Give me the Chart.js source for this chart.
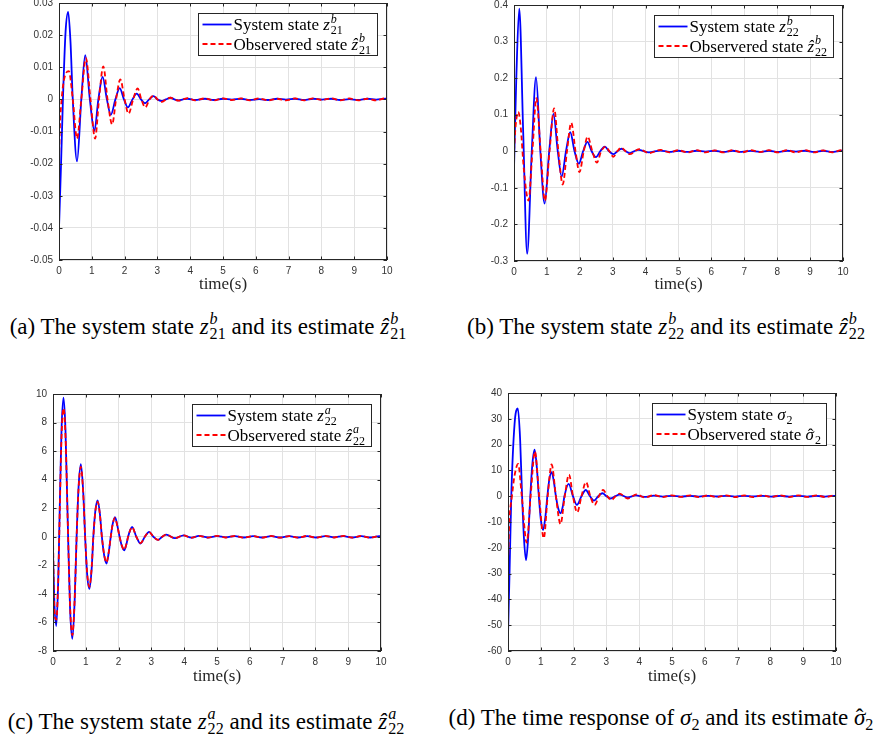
<!DOCTYPE html>
<html>
<head>
<meta charset="utf-8">
<title>Observer state estimates</title>
<script src="https://cdn.jsdelivr.net/npm/chart.js@4.4.1/dist/chart.umd.min.js"></script>
<style>
  html, body { margin: 0; padding: 0; background: #fff; }
  #fig { position: relative; width: 875px; height: 742px; overflow: hidden; font-family: "Liberation Serif", "Times New Roman", serif; }
  #fig canvas { position: absolute; }
  .cap { position: absolute; width: 600px; text-align: center; font-size: 23px; line-height: 1; white-space: nowrap; color: #000; }
  .ss { display: inline-block; font-size: 0.7em; line-height: 0.95; vertical-align: -0.3em; margin-left: 1px; text-align: left; }
  .ss > * { display: block; }
  .cap sub { font-size: 0.7em; vertical-align: -0.3em; line-height: 0; }
  .hat { position: relative; display: inline-block; }
  .hat .hc { position: absolute; left: 0; right: 0; top: 0; text-align: center; font-style: normal; }
</style>
</head>
<body>
<div id="fig">
  <canvas id="chartA" width="420" height="310" style="left:0px;top:-10px"></canvas>
  <canvas id="chartB" width="435" height="310" style="left:440px;top:-10px"></canvas>
  <canvas id="chartC" width="420" height="311" style="left:0px;top:380px"></canvas>
  <canvas id="chartD" width="435" height="311" style="left:440px;top:380px"></canvas>

  <div class="cap" style="left:-92px;top:311px">(a) The system state <i>z</i><span class="ss"><i>b</i><span>21</span></span> and its estimate <i>ẑ</i><span class="ss"><i>b</i><span>21</span></span></div>
  <div class="cap" style="left:366px;top:311px">(b) The system state <i>z</i><span class="ss"><i>b</i><span>22</span></span> and its estimate <i>ẑ</i><span class="ss"><i>b</i><span>22</span></span></div>
  <div class="cap" style="left:-94px;top:706px">(c) The system state <i>z</i><span class="ss"><i>a</i><span>22</span></span> and its estimate <i>ẑ</i><span class="ss"><i>a</i><span>22</span></span></div>
  <div class="cap" style="left:361px;top:706px">(d) The time response of <i>σ</i><sub>2</sub> and its estimate <span class="hat"><i>σ</i><span class="hc">ˆ</span></span><sub>2</sub></div>
</div>

<script>
// ---- data (time in s) ----
const tTail = [4.45, 4.72, 5.0, 5.27, 5.55, 5.82, 6.1, 6.37, 6.65, 6.92, 7.2, 7.47, 7.75, 8.02, 8.3, 8.57, 8.85, 9.12, 9.4, 9.67, 9.95, 10];

// (a) z21^b
const tA_sys = [0, 0.06, 0.12, 0.2, 0.28, 0.35, 0.42, 0.55, 0.68, 0.8, 0.94, 1.08, 1.2, 1.33, 1.46, 1.58, 1.72, 1.85, 1.98, 2.1, 2.24, 2.37, 2.5, 2.62, 2.75, 2.88, 3.0, 3.12, 3.26, 3.4, 3.52, 3.65, 3.78, 3.92, 4.15];
const yA_sys = [-0.04, -0.021, 0, 0.021, 0.0272, 0.018, 0, -0.0193, 0, 0.0138, 0, -0.0098, 0, 0.007, 0, -0.0048, 0, 0.0035, 0, -0.0025, 0, 0.0018, 0, -0.0012, 0, 0.001, 0, -0.0005, 0, 0.0005, 0, -0.0003, 0, 0.0002, -0.0002];
const yA_sysTail = [0.0002, -0.0002, 0.0002, -0.0001, 0.0002, -0.0002, 0.0001, -0.0002, 0.0002, -0.0001, 0.0002, -0.0002, 0.0002, -0.0001, 0.0002, -0.0002, 0.0001, -0.0002, 0.0002, -0.0001, 0.0002, 0.0001];
const tA_obs = [0, 0.03, 0.08, 0.15, 0.3, 0.42, 0.55, 0.68, 0.82, 0.96, 1.1, 1.22, 1.35, 1.48, 1.62, 1.74, 1.87, 2.0, 2.12, 2.26, 2.4, 2.51, 2.63, 2.76, 2.89, 3.0, 3.13, 3.27, 3.4, 3.52, 3.65, 3.78, 3.92, 4.15];
const yA_obs = [-0.019, -0.008, 0, 0.006, 0.0088, 0, -0.0122, 0, 0.0128, 0, -0.0122, 0, 0.0103, 0, -0.0078, 0, 0.0062, 0, -0.0045, 0, 0.0034, 0, -0.0025, 0, 0.0012, 0, -0.0008, 0, 0.0005, 0, -0.0004, 0, 0.0004, -0.0003];
const yA_obsTail = [0.0003, -0.0003, 0.0003, -0.0002, 0.0003, -0.0003, 0.0003, -0.0003, 0.0002, -0.0003, 0.0003, -0.0003, 0.0003, -0.0002, 0.0003, -0.0003, 0.0003, -0.0003, 0.0002, -0.0003, 0.0003, 0.0002];

// (b) z22^b
const tB_sys = [0, 0.07, 0.16, 0.28, 0.4, 0.54, 0.67, 0.8, 0.93, 1.07, 1.2, 1.33, 1.45, 1.58, 1.71, 1.84, 1.97, 2.1, 2.23, 2.36, 2.49, 2.62, 2.76, 2.89, 3.02, 3.14, 3.27, 3.4, 3.52, 3.65, 3.78, 4.1];
const yB_sys = [-0.047, 0.2, 0.39, 0.05, -0.28, 0, 0.203, 0, -0.143, 0, 0.102, 0, -0.069, 0, 0.052, 0, -0.034, 0, 0.026, 0, -0.016, 0, 0.013, 0, -0.008, 0, 0.007, 0, -0.005, 0, 0.004, -0.003];
const yB_sysTail = [0.002, -0.0015, 0.0015, -0.0015, 0.0015, -0.001, 0.0015, -0.0015, 0.0015, -0.0015, 0.001, -0.0015, 0.0015, -0.0015, 0.0015, -0.001, 0.0015, -0.0015, 0.0015, -0.0015, 0.0015, 0.001];
const tB_obs = [0, 0.05, 0.13, 0.2, 0.3, 0.44, 0.56, 0.68, 0.81, 0.94, 1.08, 1.22, 1.35, 1.48, 1.61, 1.74, 1.87, 1.99, 2.12, 2.24, 2.38, 2.52, 2.65, 2.78, 2.9, 3.02, 3.14, 3.26, 3.39, 3.52, 3.8, 4.1];
const yB_obs = [0, 0.07, 0.108, 0.07, -0.05, -0.135, 0, 0.145, 0, -0.135, 0, 0.117, 0, -0.091, 0, 0.078, 0, -0.057, 0, 0.04, 0, -0.031, 0, 0.013, 0, -0.015, 0, 0.01, 0, -0.008, 0.006, -0.005];
const yB_obsTail = [0.004, -0.003, 0.003, -0.003, 0.003, -0.003, 0.0025, -0.003, 0.003, -0.003, 0.003, -0.0025, 0.003, -0.003, 0.003, -0.003, 0.003, -0.003, 0.0025, -0.003, 0.003, 0.002];

// (c) z22^a  (both series share the same sample times)
const tC = [0, 0.04, 0.1, 0.16, 0.21, 0.26, 0.32, 0.38, 0.45, 0.52, 0.59, 0.66, 0.72, 0.78, 0.85, 0.92, 0.98, 1.04, 1.11, 1.18, 1.23, 1.29, 1.36, 1.43, 1.49, 1.56, 1.63, 1.7, 1.76, 1.82, 1.89, 1.96, 2.03, 2.1, 2.17, 2.24, 2.29, 2.35, 2.41, 2.54, 2.67, 2.8, 2.93, 3.06, 3.2, 3.33, 3.45, 3.72, 3.98, 4.22];
const yC_sys = [-1, -4.5, -6.25, -3, 2.5, 7.5, 9.75, 7.5, 1, -5, -7.15, -4.5, 0, 3.5, 5.08, 3.2, 0, -2.6, -3.65, -2.2, 0, 1.8, 2.55, 1.6, 0, -1.3, -1.87, -1.1, 0, 0.9, 1.38, 0.8, 0, -0.65, -0.95, -0.5, 0, 0.45, 0.7, 0, -0.47, 0, 0.35, 0, -0.22, 0, 0.15, -0.1, 0.1, -0.06];
const yC_sysTail = [0.06, -0.05, 0.05, -0.04, 0.05, -0.05, 0.04, -0.05, 0.05, -0.05, 0.04, -0.05, 0.05, -0.05, 0.05, -0.04, 0.05, -0.05, 0.05, -0.05, 0.04, 0.03];
const yC_obs = [0, -5.2, -5.8, -3, 2.2, 7, 9, 7.1, 1, -4.8, -6.9, -4.4, 0, 3.4, 4.9, 3.1, 0, -2.5, -3.5, -2.1, 0, 1.75, 2.45, 1.55, 0, -1.25, -1.8, -1.05, 0, 0.88, 1.32, 0.78, 0, -0.62, -0.92, -0.48, 0, 0.44, 0.68, 0, -0.45, 0, 0.34, 0, -0.21, 0, 0.15, -0.1, 0.1, -0.07];
const yC_obsTail = [0.07, -0.06, 0.06, -0.05, 0.06, -0.06, 0.05, -0.06, 0.06, -0.06, 0.05, -0.06, 0.06, -0.06, 0.06, -0.05, 0.06, -0.06, 0.06, -0.06, 0.05, 0.04];

// (d) sigma_2
const tD_sys = [0, 0.05, 0.1, 0.2, 0.3, 0.37, 0.43, 0.49, 0.55, 0.62, 0.68, 0.74, 0.81, 0.88, 0.94, 1.0, 1.07, 1.14, 1.2, 1.26, 1.33, 1.4, 1.46, 1.53, 1.6, 1.67, 1.72, 1.85, 1.98, 2.1, 2.24, 2.37, 2.5, 2.62, 2.75, 2.88, 3.0, 3.13, 3.27, 3.4, 3.65, 3.9, 4.15];
const yD_sys = [-54, -28, 0, 28, 34, 22, 0, -17, -24.8, -15, 0, 12, 18, 11, 0, -9, -13.1, -8, 0, 6.5, 9.3, 5.5, 0, -4.7, -6.6, -4, 0, 4.8, 0, -3.4, 0, 2.4, 0, -1.7, 0, 1.15, 0, -0.9, 0, 0.6, -0.5, 0.3, -0.3];
const yD_sysTail = [0.2, -0.15, 0.15, -0.15, 0.12, -0.15, 0.15, -0.12, 0.15, -0.15, 0.15, -0.12, 0.15, -0.15, 0.12, -0.15, 0.15, -0.15, 0.12, -0.15, 0.15, 0.1];
const tD_obs = [0, 0.04, 0.12, 0.2, 0.31, 0.42, 0.57, 0.69, 0.82, 0.95, 1.09, 1.21, 1.33, 1.46, 1.6, 1.73, 1.86, 1.98, 2.11, 2.24, 2.38, 2.51, 2.64, 2.77, 2.9, 3.03, 3.15, 3.28, 3.4, 3.65, 3.92, 4.17];
const yD_obs = [-26, -10, 0, 8, 12.5, 0, -18, 0, 17.3, 0, -16.3, 0, 12.3, 0, -10.8, 0, 8.4, 0, -6.3, 0, 5.5, 0, -3.4, 0, 2.4, 0, -1.5, 0, 1.0, -0.9, 0.7, -0.5];
const yD_obsTail = [0.4, -0.35, 0.35, -0.3, 0.35, -0.35, 0.3, -0.35, 0.35, -0.35, 0.3, -0.35, 0.35, -0.3, 0.35, -0.35, 0.35, -0.3, 0.35, -0.35, 0.3, 0.2];

// legend entries: [roman text, math symbol, superscript, subscript, hat over symbol]
const legendA = [['System state ', 'z', 'b', '21'], ['Observered state ', 'ẑ', 'b', '21']];
const legendB = [['System state ', 'z', 'b', '22'], ['Observered state ', 'ẑ', 'b', '22']];
const legendC = [['System state ', 'z', 'a', '22'], ['Observered state ', 'ẑ', 'a', '22']];
const legendD = [['System state ', 'σ', '', '2'], ['Observered state ', 'σ', '', '2', true]];

// ---- helpers ----
const pts = (t, y) => t.map((v, i) => ({ x: v, y: y[i] }));
const fmt = v => String(+Number(v).toFixed(3));
const SERIF = '"Liberation Serif", "Times New Roman", serif';
const LEG_SIZE = 17;

function mathRun(ctx, x, y, parts, size, draw) {
  const [rm, sym, sup, sub, hat] = parts;
  ctx.font = size + 'px ' + SERIF;
  if (draw) ctx.fillText(rm, x, y);
  x += ctx.measureText(rm).width;
  ctx.font = 'italic ' + size + 'px ' + SERIF;
  const sw = ctx.measureText(sym).width;
  if (draw) ctx.fillText(sym, x, y);
  if (hat && draw) {
    ctx.font = size + 'px ' + SERIF;
    const hw = ctx.measureText('ˆ').width;
    ctx.fillText('ˆ', x + sw / 2 - hw / 2 + 1, y);
  }
  x += sw + 1;
  const s = Math.round(size * 0.7);
  let w = 0;
  if (sup) {
    ctx.font = 'italic ' + s + 'px ' + SERIF;
    if (draw) ctx.fillText(sup, x, y - size * 0.42);
    w = ctx.measureText(sup).width;
  }
  if (sub) {
    ctx.font = s + 'px ' + SERIF;
    if (draw) ctx.fillText(sub, x, y + size * 0.25);
    w = Math.max(w, ctx.measureText(sub).width);
  }
  return x + w;
}

// box, inward ticks on all sides, and the legend in the top-right corner
const matlabAxes = {
  id: 'matlabAxes',
  afterDraw(chart, args, opts) {
    const { ctx, chartArea: a, scales: { x, y } } = chart;
    ctx.save();
    ctx.strokeStyle = '#262626';
    ctx.lineWidth = 1;
    const L = 3.5;
    ctx.beginPath();
    x.ticks.forEach(t => {
      const px = Math.round(x.getPixelForValue(t.value)) + 0.5;
      ctx.moveTo(px, a.bottom); ctx.lineTo(px, a.bottom - L);
      ctx.moveTo(px, a.top); ctx.lineTo(px, a.top + L);
    });
    y.ticks.forEach(t => {
      const py = Math.round(y.getPixelForValue(t.value)) + 0.5;
      ctx.moveTo(a.left, py); ctx.lineTo(a.left + L, py);
      ctx.moveTo(a.right, py); ctx.lineTo(a.right - L, py);
    });
    ctx.stroke();
    ctx.strokeRect(Math.round(a.left) + 0.5, Math.round(a.top) + 0.5,
                   Math.round(a.right - a.left) - 1, Math.round(a.bottom - a.top) - 1);

    // legend
    const rows = opts.labels;
    const tw = Math.max(...rows.map(r => mathRun(ctx, 0, 0, r, LEG_SIZE, false)));
    const w = Math.round(35 + tw + 6), h = 42;
    const bx = Math.round(a.right - 10 - w) + 0.5, by = Math.round(a.top + 9.5) + 0.5;
    ctx.fillStyle = '#fff';
    ctx.fillRect(bx, by, w, h);
    ctx.strokeStyle = '#262626';
    ctx.strokeRect(bx, by, w, h);
    ctx.textBaseline = 'alphabetic';
    rows.forEach((r, i) => {
      const ds = chart.data.datasets[i];
      const cy = by + 11 + i * 19.5;
      ctx.strokeStyle = ds.borderColor;
      ctx.lineWidth = ds.borderWidth;
      ctx.setLineDash(ds.borderDash || []);
      ctx.beginPath();
      ctx.moveTo(bx + 4, cy); ctx.lineTo(bx + 33, cy);
      ctx.stroke();
      ctx.setLineDash([]);
      ctx.fillStyle = '#000';
      mathRun(ctx, bx + 35, cy + 5.5, r, LEG_SIZE, true);
    });
    ctx.restore();
  }
};

function makePanel(id, sys, obs, yr, labels, g) {
  return new Chart(document.getElementById(id), {
    type: 'line',
    data: {
      datasets: [
        { label: 'System state', data: sys, borderColor: '#0000ff', borderWidth: 1.8, order: 1 },
        { label: 'Observered state', data: obs, borderColor: '#ff0000', borderWidth: 1.8, borderDash: [5, 3], order: 0 }
      ]
    },
    options: {
      responsive: false,
      animation: false,
      devicePixelRatio: 1,
      layout: { autoPadding: false, padding: { left: 0, right: g.padR, top: g.padT, bottom: 0 } },
      elements: {
        point: { radius: 0 },
        line: { cubicInterpolationMode: 'monotone', fill: false }
      },
      plugins: {
        legend: { display: false },
        tooltip: { enabled: false },
        matlabAxes: { labels: labels }
      },
      scales: {
        x: {
          type: 'linear', min: 0, max: 10,
          afterFit: s => { s.height = g.xH; },
          border: { display: false },
          grid: { color: '#e2e2e2', drawTicks: false },
          ticks: { stepSize: 1, padding: 5, maxRotation: 0, autoSkip: false, color: '#333',
                   font: { family: 'Liberation Sans', size: 10 } },
          title: { display: true, text: 'time(s)', color: '#262626',
                   font: { family: 'Liberation Serif', size: 17 }, padding: { top: 0, bottom: g.tPad } }
        },
        y: {
          type: 'linear', min: yr[0], max: yr[1],
          afterFit: s => { s.width = g.yW; },
          border: { display: false },
          grid: { color: '#e2e2e2', drawTicks: false },
          ticks: { stepSize: yr[2], padding: 6, autoSkip: false, color: '#333',
                   font: { family: 'Liberation Sans', size: 10 }, callback: v => fmt(v) }
        }
      }
    },
    plugins: [matlabAxes]
  });
}

makePanel('chartA',
  pts(tA_sys.concat(tTail), yA_sys.concat(yA_sysTail)),
  pts(tA_obs.concat(tTail), yA_obs.concat(yA_obsTail)),
  [-0.05, 0.03, 0.01], legendA,
  { yW: 59, padR: 33, padT: 13, xH: 40, tPad: 5 });

makePanel('chartB',
  pts(tB_sys.concat(tTail), yB_sys.concat(yB_sysTail)),
  pts(tB_obs.concat(tTail), yB_obs.concat(yB_obsTail)),
  [-0.3, 0.4, 0.1], legendB,
  { yW: 74, padR: 32, padT: 15, xH: 39, tPad: 5 });

makePanel('chartC',
  pts(tC.concat(tTail), yC_sys.concat(yC_sysTail)),
  pts(tC.concat(tTail), yC_obs.concat(yC_obsTail)),
  [-8, 10, 2], legendC,
  { yW: 53, padR: 39, padT: 14, xH: 40, tPad: 4 });

makePanel('chartD',
  pts(tD_sys.concat(tTail), yD_sys.concat(yD_sysTail)),
  pts(tD_obs.concat(tTail), yD_obs.concat(yD_obsTail)),
  [-60, 40, 10], legendD,
  { yW: 68, padR: 39, padT: 13, xH: 40, tPad: 4 });
</script>
</body>
</html>
